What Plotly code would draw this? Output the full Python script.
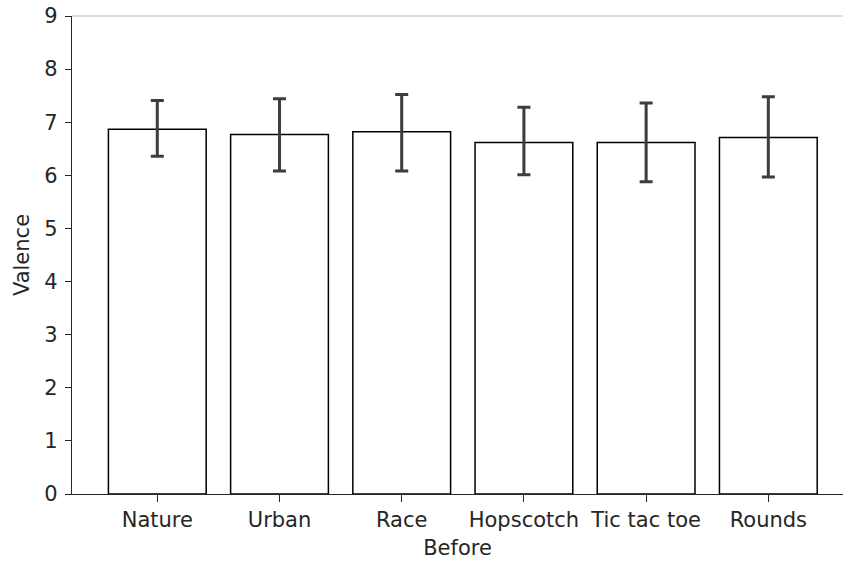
import plotly.graph_objects as go

categories = ["Nature", "Urban", "Race", "Hopscotch", "Tic tac toe", "Rounds"]
means = [6.87, 6.77, 6.82, 6.62, 6.62, 6.71]
err_plus = [0.54, 0.67, 0.70, 0.66, 0.74, 0.77]
err_minus = [0.51, 0.69, 0.74, 0.61, 0.74, 0.74]
y_ticks = [0, 1, 2, 3, 4, 5, 6, 7, 8, 9]

xpos = list(range(len(categories)))
FONT = "DejaVu Sans"
TXT = "#262626"
FS = 21

fig = go.Figure()
fig.add_trace(go.Bar(
    x=xpos, y=means, width=0.8,
    marker=dict(color="white", line=dict(color="black", width=1.5)),
    error_y=dict(type="data", symmetric=False, array=err_plus, arrayminus=err_minus,
                 color="#3d3d3d", thickness=3, width=6.5),
))

fig.update_layout(
    width=843, height=561,
    margin=dict(l=72, r=0, t=16, b=67),
    paper_bgcolor="white", plot_bgcolor="white",
    showlegend=False,
    font=dict(family=FONT, size=FS, color=TXT),
    xaxis=dict(
        range=[-0.698, 5.611], tickvals=xpos, ticktext=categories,
        showgrid=False, zeroline=False, showline=True, linecolor="#262626", linewidth=1.3,
        ticks="outside", ticklen=7, tickcolor="#262626", tickwidth=1.3,
        title=dict(text="Before", standoff=8, font=dict(size=FS, color=TXT)),
        tickfont=dict(size=FS, color=TXT),
    ),
    yaxis=dict(
        range=[0, 9], tickvals=y_ticks,
        showgrid=False, zeroline=False, showline=True, linecolor="#262626", linewidth=1.3,
        ticks="outside", ticklen=6, tickcolor="#262626", tickwidth=1.3,
        ticklabelstandoff=3, ticklabeloverflow="allow",
        title=dict(text="Valence", standoff=8, font=dict(size=FS, color=TXT)),
        tickfont=dict(size=FS, color=TXT),
    ),
    shapes=[dict(type="line", xref="paper", yref="paper", x0=0, x1=1, y0=1, y1=1,
                 line=dict(color="#bdbdbd", width=1))],
)

fig.write_html("out.html", config={"displayModeBar": False},
               post_script="document.body.style.margin='0';document.body.style.overflow='hidden';")
